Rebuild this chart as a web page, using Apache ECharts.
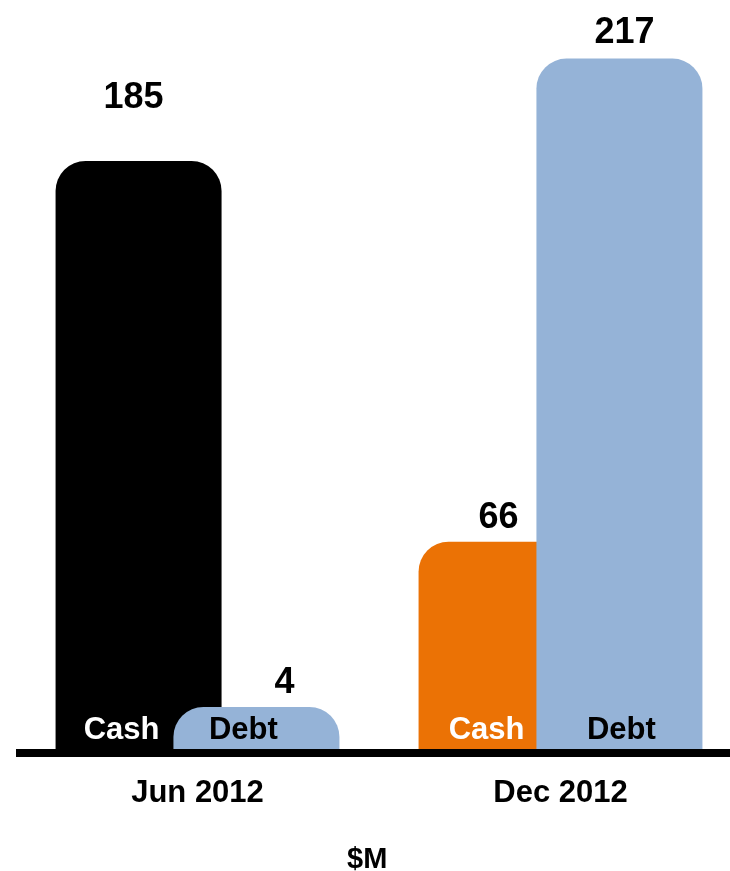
<!DOCTYPE html>
<html>
<head>
<meta charset="utf-8">
<script src="https://cdn.jsdelivr.net/npm/echarts@6/dist/echarts.min.js"></script>
<style>
  html, body { margin: 0; padding: 0; background: #ffffff; }
  #chart { width: 730px; height: 871px; }
</style>
</head>
<body>
<div id="chart"></div>
<script>
// ---- data ----
const categories = ['Jun 2012', 'Dec 2012'];
const seriesNames = ['Cash', 'Debt'];
const cashValues = [185, 66];
const debtValues = [4, 217];
const unitLabel = '$M';

// ---- styling ----
const FONT = '"Liberation Sans", Arial, Helvetica, sans-serif';
const cashColors = ['#000000', '#eb7205'];
const debtColor = '#95b3d7';
const BAR_W = 166;
const BAR_GAP = '-29%';
const RADIUS = [30, 30, 0, 0];

// per-bar placement of the value labels: horizontal nudge and distance above the bar
const cashValueLabel = [{ dx: -5, dist: 45 }, { dx: -3, dist: 6 }];
const debtValueLabel = [{ dx: 28, dist: 6 }, { dx: 5, dist: 8 }];
// horizontal nudge of the "Cash" / "Debt" captions inside the bars
const cashNameDx = [-17, -15];
const debtNameDx = [-13, 2];

const valueLabelStyle = {
  show: true,
  position: 'top',
  color: '#000',
  fontFamily: FONT,
  fontWeight: 'bold',
  fontSize: 36
};

// a zero-height layer in each stack that carries the caption at the bar foot
function captionSeries(stack, caption, color, nudges) {
  return {
    type: 'bar',
    stack: stack,
    barWidth: BAR_W,
    barGap: BAR_GAP,
    silent: true,
    z: 4,
    itemStyle: { color: 'transparent' },
    label: {
      show: true,
      position: 'insideBottom',
      distance: 7,
      formatter: caption,
      color: color,
      fontFamily: FONT,
      fontWeight: 'bold',
      fontSize: 31
    },
    data: categories.map((c, i) => ({ value: 0, label: { offset: [nudges[i], 0] } }))
  };
}

const chart = echarts.init(document.getElementById('chart'), null, { renderer: 'canvas' });

chart.setOption({
  animation: false,
  backgroundColor: '#ffffff',
  title: {
    text: unitLabel,
    left: 347,
    top: 845,
    padding: 0,
    textStyle: { fontFamily: FONT, fontWeight: 'bold', fontSize: 29, color: '#000' }
  },
  grid: {
    left: 16,
    width: 726,
    top: 49,
    bottom: 118,
    containLabel: false,
    outerBoundsMode: 'none'
  },
  xAxis: {
    type: 'category',
    data: categories,
    z: 10,
    axisLine: { show: true, lineStyle: { color: '#000', width: 8, cap: 'butt' } },
    axisTick: { show: false },
    axisLabel: {
      margin: 25,
      color: '#000',
      fontFamily: FONT,
      fontWeight: 'bold',
      fontSize: 31
    }
  },
  yAxis: { type: 'value', min: 0, max: 220, show: false },
  series: [
    captionSeries('cash', seriesNames[0], '#ffffff', cashNameDx),
    {
      name: seriesNames[0],
      type: 'bar',
      stack: 'cash',
      barWidth: BAR_W,
      barGap: BAR_GAP,
      itemStyle: { borderRadius: RADIUS },
      label: valueLabelStyle,
      data: cashValues.map((v, i) => ({
        value: v,
        itemStyle: { color: cashColors[i] },
        label: { distance: cashValueLabel[i].dist, offset: [cashValueLabel[i].dx, 0] }
      }))
    },
    captionSeries('debt', seriesNames[1], '#000000', debtNameDx),
    {
      name: seriesNames[1],
      type: 'bar',
      stack: 'debt',
      barWidth: BAR_W,
      barGap: BAR_GAP,
      barMinHeight: 46,
      itemStyle: { color: debtColor, borderRadius: RADIUS },
      label: valueLabelStyle,
      data: debtValues.map((v, i) => ({
        value: v,
        label: { distance: debtValueLabel[i].dist, offset: [debtValueLabel[i].dx, 0] }
      }))
    }
  ]
});
</script>
</body>
</html>
